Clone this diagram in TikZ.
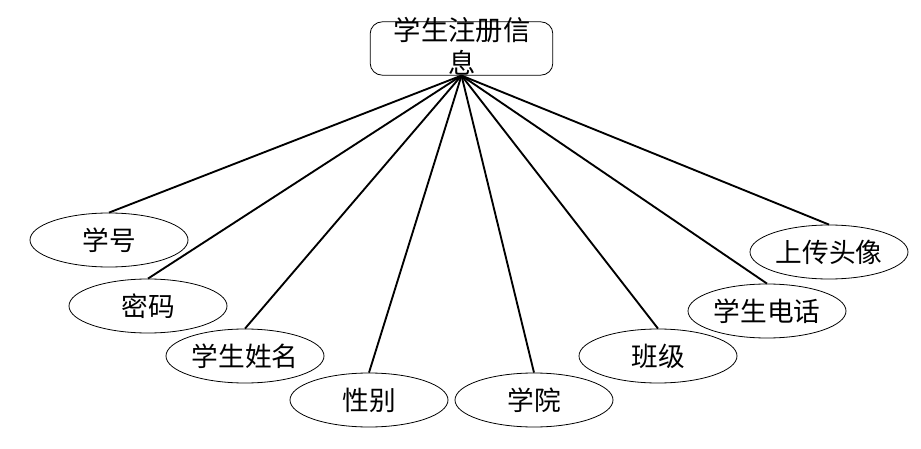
\documentclass[tikz,border=0pt]{standalone}
\usepackage{fontspec}
\setmainfont{Noto Sans CJK SC}
\usetikzlibrary{arrows, positioning, shapes.geometric}

\begin{document}
\begin{tikzpicture}[x=0.75pt,y=-0.75pt,
  regbox/.style={draw,rounded corners=9pt,line width=0.6pt,minimum width=137pt,minimum height=40pt,inner sep=0pt},
  attr/.style={draw,ellipse,line width=0.6pt,minimum width=118.5pt,minimum height=40.5pt,inner sep=0pt,font=\fontsize{20}{24}\selectfont},
  link/.style={line width=1.4pt}]
\useasboundingbox (0,0) rectangle (921,449);
%Entity box on top
\node[regbox] (reg) at (461.5,48.5) {};
\node[align=center,font=\fontsize{20.5}{24.5}\selectfont] (regtxt) at (462,46.5) {学生注册信\\息};
%Attribute ellipses
\node[attr] (xuehao) at (109,240) {学号};
\node[attr] (mima) at (148,306) {密码};
\node[attr] (xingming) at (245,356) {学生姓名};
\node[attr] (xingbie) at (369,400) {性别};
\node[attr] (xueyuan) at (534,400) {学院};
\node[attr] (banji) at (658,356) {班级};
\node[attr] (dianhua) at (767,311) {学生电话};
\node[attr] (touxiang) at (829,252) {上传头像};
%Lines from the box to the ellipses
\draw[link] (reg.south) -- (xuehao.north);
\draw[link] (reg.south) -- (mima.north);
\draw[link] (reg.south) -- (xingming.north);
\draw[link] (reg.south) -- (xingbie.north);
\draw[link] (reg.south) -- (xueyuan.north);
\draw[link] (reg.south) -- (banji.north);
\draw[link] (reg.south) -- (dianhua.north);
\draw[link] (reg.south) -- (touxiang.north);
\end{tikzpicture}
\end{document}
